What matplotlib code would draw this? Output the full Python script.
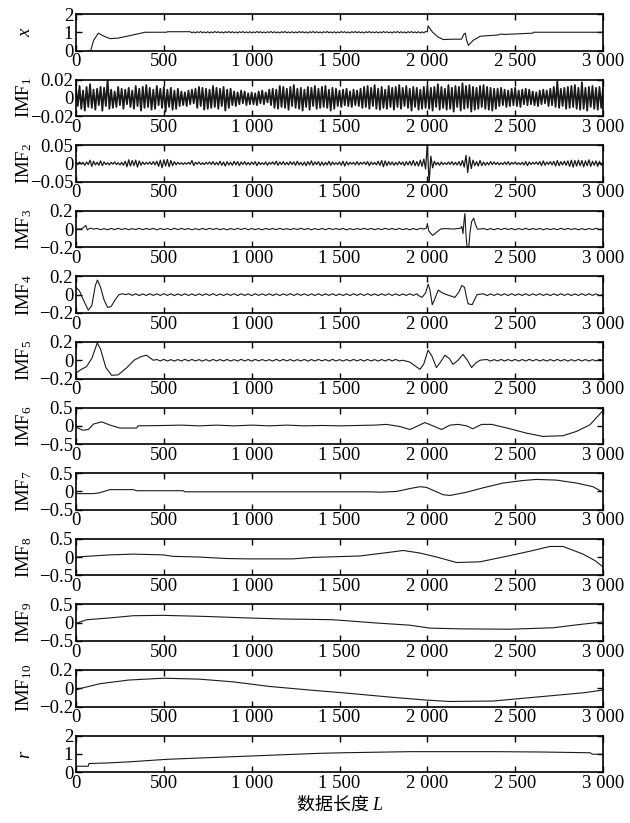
import matplotlib
matplotlib.use("Agg")
import matplotlib.pyplot as plt
import numpy as np

plt.rcParams.update({
    "font.family":        "Liberation Serif",
    "font.size":          13.5,
    "mathtext.fontset":   "custom",
    "mathtext.rm":        "Liberation Serif",
    "mathtext.it":        "Liberation Serif:italic",
    "axes.linewidth":     1.2,
    "axes.unicode_minus": True,
})

# ── Data ──────────────────────────────────────────────────────────────────────
XTICKS       = [0, 500, 1000, 1500, 2000, 2500, 3000]
XTICK_LABELS = ["0", "500", "1 000", "1 500", "2 000", "2 500", "3 000"]

# x (original signal)
X_HEAD_T = [60, 84, 100, 127, 160, 194, 240, 300, 393, 515, 522, 640]
X_HEAD_V = [-0.3, 0.0, 0.55, 0.95, 0.78, 0.65, 0.68, 0.8, 1.0, 1.0, 1.03, 1.03]
X_NOISE = [  # 650..1990 step 10, offsets from 1.0 in 0.01
    3, -3, 2, -4, 3, -2, 4, -3, 2, -3, 3, -4, 2, -3, 4, -2, 3, -3, 2, -4,
    3, -2, 4, -3, 3, -3, 2, -4, 3, -2, 4, -3, 2, -3, 3, -4, 2, -3, 4, -2,
    3, -3, 2, -4, 3, -2, 4, -3, 3, -3, 2, -4, 3, -2, 4, -3, 2, -3, 3, -4,
    2, -3, 4, -2, 3, -3, 2, -4, 3, -2, 4, -3, 3, -3, 2, -4, 3, -2, 4, -3,
    2, -3, 3, -4, 2, -3, 4, -2, 3, -3, 2, -4, 3, -2, 4, -3, 3, -3, 2, -4,
    3, -2, 4, -3, 2, -3, 3, -4, 2, -3, 4, -2, 3, -3, 2, -4, 3, -2, 4, -3,
    3, -3, 2, -4, 3, -2, 4, -3, 2, -3, 3, -4, 2, -3, 4]
X_TAIL_T = [2000, 2004, 2030, 2060, 2090, 2150, 2195, 2208, 2216, 2224, 2234,
            2260, 2300, 2400, 2420, 2440, 2600, 2605, 3000]
X_TAIL_V = [1.02, 1.35, 1.0, 0.75, 0.6, 0.62, 0.62, 0.9, 0.95, 0.55, 0.28,
            0.55, 0.78, 0.85, 0.9, 0.88, 0.95, 1.0, 1.0]

# IMF1, 0..2990 step 10, units of 0.001
IMF1 = [
    11, -9, 13, -12, 8, -14, 12, -10, 15, -11, 9, -13, 10, -8, 12, -14, 11, -9, 20, -12,
    9, -11, 7, -10, 12, -8, 10, -12, 9, -7, 11, -10, 8, -12, 13, -9, 10, -14, 12, -11,
    14, -10, 11, -13, 9, -12, 13, -8, 10, -11, 12, -15, 9, -10, 11, -13, 8, -12, 10, -9,
    7, -8, 6, -9, 8, -7, 9, -6, 10, -11, 12, -9, 11, -13, 10, -12, 9, -11, 13, -10,
    11, -12, 10, -9, 12, -14, 9, -11, 10, -8, 7, -9, 6, -7, 8, -6, 7, -8, 5, -7,
    6, -7, 5, -8, 7, -6, 8, -7, 6, -5, 9, -8, 10, -11, 9, -12, 13, -10, 12, -11,
    10, -13, 12, -9, 14, -11, 10, -12, 11, -14, 9, -10, 12, -13, 11, -9, 13, -12, 10, -11,
    12, -10, 13, -11, 9, -14, 11, -12, 10, -9, 8, -10, 9, -8, 10, -9, 7, -10, 9, -8,
    8, -9, 10, -11, 12, -10, 13, -12, 11, -9, 14, -12, 10, -13, 12, -11, 9, -12, 13, -10,
    11, -13, 12, -10, 14, -12, 11, -9, 13, -11, 10, -14, 12, -10, 11, -13, 9, -12, 12, -11,
    13, -12, 11, -14, 12, -10, 15, -13, 12, -11, 10, -13, 14, -12, 11, -15, 13, -10, 12, -14,
    16, -12, 13, -11, 14, -15, 12, -13, 11, -12, 13, -10, 14, -12, 12, -13, 11, -14, 10, -12,
    10, -9, 11, -8, 9, -10, 8, -9, 10, -8, 11, -9, 8, -10, 9, -7, 10, -8, 9, -7,
    7, -8, 6, -9, 8, -7, 9, -6, 8, -9, 10, -8, 12, -10, 18, -11, 10, -9, 11, -12,
    12, -11, 13, -10, 14, -12, 11, -13, 17, -12, 11, -14, 12, -10, 13, -12, 11, -13, 12, -11,
    10]

# IMF2, 0..2990 step 10, units of 0.001
IMF2 = [
    2, -3, 4, -2, 3, -5, 4, -3, 9, -8, 6, -4, 3, -5, 7, -6, 4, -3, 2, -4,
    3, -2, 4, -3, 2, -4, 3, -5, 6, -9, 10, -7, 8, -6, 9, -10, 7, -5, 4, -3,
    3, -2, 4, -3, 5, -4, 6, -8, 9, -12, 10, -7, 11, -9, 8, -6, 5, -4, 3, -2,
    2, -3, 2, -2, 3, -2, 8, -6, 3, -2, 4, -3, 2, -3, 3, -2, 4, -3, 5, -4,
    3, -4, 6, -5, 4, -7, 5, -4, 3, -5, 6, -4, 5, -6, 4, -3, 5, -4, 3, -4,
    4, -3, 5, -6, 4, -3, 2, -3, 4, -5, 3, -2, 4, -3, 6, -5, 4, -3, 5, -4,
    3, -4, 5, -3, 4, -5, 6, -4, 3, -5, 4, -6, 5, -4, 7, -5, 4, -3, 5, -6,
    4, -5, 3, -4, 6, -5, 4, -3, 2, -3, 4, -5, 6, -7, 5, -4, 3, -2, 3, -4,
    5, -4, 3, -2, 4, -3, 5, -6, 4, -3, 3, -4, 6, -5, 8, -9, 7, -6, 5, -4,
    4, -5, 3, -4, 5, -3, 4, -6, 5, -4, 6, -5, 8, -6, 5, -7, 9, -8, 12, -15,
    55, -55, 20, -12, 6, -4, 3, -5, 4, -3, 2, -3, 4, -3, 5, -4, 3, -4, 5, -6,
    8, -10, 22, -25, 18, -14, 9, -6, 5, -7, 8, -6, 4, -5, 3, -4, 5, -3, 4, -3,
    3, -4, 2, -3, 4, -3, 5, -4, 3, -2, 4, -3, 2, -3, 3, -4, 5, -6, 4, -3,
    3, -2, 4, -3, 5, -6, 7, -5, 4, -3, 5, -4, 6, -7, 8, -6, 5, -4, 6, -5,
    7, -8, 9, -10, 8, -7, 9, -6, 8, -9, 7, -6, 10, -8, 6, -5, 7, -8, 6, -5,
    0]

# IMF3
IMF3_HEAD_T = [0, 30, 45, 55, 65, 80, 100]
IMF3_HEAD_V = [0.0, 0.0, 0.02, 0.04, -0.01, 0.01, 0.0]
IMF3_RIP1 = [  # 120..1960 step 20, units of 0.001
    6, -7, 5, -8, 7, -6, 8, -5, 6, -7, 5, -6, 8, -7, 6, -5, 7, -8, 6, -6,
    5, -7, 8, -6, 7, -5, 6, -8, 5, -7, 6, -6, 8, -5, 7, -7, 5, -8, 6, -6,
    7, -5, 8, -7, 6, -6, 5, -8, 7, -5, 6, -7, 8, -6, 5, -7, 6, -5, 8, -6,
    7, -8, 5, -6, 6, -7, 8, -5, 6, -6, 7, -8, 5, -7, 6, -5, 8, -6, 7, -7,
    5, -6, 8, -5, 6, -7, 7, -6, 5, -8, 6, -7, 8]
IMF3_EVT_T = [1980, 1995, 2000, 2008, 2030, 2050, 2075, 2100, 2150, 2190, 2196,
              2203, 2209, 2214, 2219, 2226, 2234, 2242, 2252, 2264, 2274, 2285, 2300]
IMF3_EVT_V = [0.0, 0.01, 0.06, -0.02, -0.07, -0.04, 0.0, 0.005, 0.0, 0.01, 0.03,
              -0.05, 0.09, 0.17, -0.04, -0.2, -0.25, -0.05, 0.08, 0.12, 0.05, 0.0, 0.0]
IMF3_RIP2 = [  # 2320..2980 step 20
    6, -7, 5, -8, 7, -6, 8, -5, 6, -7, 5, -6, 8, -7, 6, -5, 7, -8, 6, -6,
    5, -7, 8, -6, 7, -5, 6, -8, 5, -7, 6, -6, 8, -5]

# IMF4
IMF4_HEAD_T = [0, 20, 40, 70, 90, 110, 122, 140, 160, 180, 200, 225, 245, 265, 280]
IMF4_HEAD_V = [0.08, 0.04, -0.05, -0.17, -0.12, 0.1, 0.16, 0.08, -0.06, -0.14,
               -0.13, -0.05, 0.0, 0.01, 0.0]
IMF4_RIP1 = [  # 300..1940 step 20
    10, -8, 9, -10, 8, -9, 10, -8, 9, -9, 11, -8, 9, -10, 8, -9, 10, -9, 8, -10,
    9, -8, 10, -9, 11, -10, 8, -9, 9, -8, 10, -10, 9, -9, 8, -11, 10, -8, 9, -9,
    10, -9, 8, -10, 9, -8, 11, -9, 10, -8, 9, -10, 8, -9, 10, -9, 9, -8, 10, -10,
    8, -9, 9, -10, 10, -8, 9, -9, 11, -9, 8, -10, 9, -8, 10, -9, 9, -10, 8, -9,
    10, -8, 9]
IMF4_EVT_T = [1950, 1970, 1990, 2005, 2015, 2028, 2040, 2062, 2085, 2110, 2157,
              2180, 2196, 2212, 2222, 2232, 2255, 2270, 2283, 2300]
IMF4_EVT_V = [-0.01, -0.03, 0.02, 0.115, 0.05, -0.11, -0.06, 0.05, 0.02, 0.0, -0.03,
              0.03, 0.1, 0.08, -0.02, -0.1, -0.11, -0.05, 0.0, 0.005]
IMF4_RIP2 = [  # 2320..2980 step 20
    9, -10, 8, -9, 10, -8, 9, -10, 11, -9, 8, -9, 10, -10, 9, -8, 10, -9, 8, -10,
    9, -9, 10, -8, 9, -10, 8, -9, 11, -9, 10, -8, 9, -9]

# IMF5
IMF5_HEAD_T = [0, 30, 60, 90, 121, 140, 170, 203, 240, 290, 330, 370, 402, 425, 440]
IMF5_HEAD_V = [-0.14, -0.1, -0.07, 0.02, 0.19, 0.12, -0.08, -0.165, -0.16, -0.08,
               0.0, 0.04, 0.055, 0.02, 0.0]
IMF5_RIP1 = [  # 460..1840 step 20
    8, -7, 9, -8, 7, -9, 8, -8, 10, -7, 9, -8, 7, -9, 8, -10, 9, -7, 8, -8,
    9, -9, 7, -8, 10, -8, 8, -9, 9, -7, 8, -8, 7, -9, 10, -8, 9, -7, 8, -9,
    7, -8, 9, -10, 8, -8, 9, -7, 8, -9, 10, -8, 7, -9, 8, -8, 9, -7, 8, -9,
    9, -8, 7, -9, 8, -8, 10, -7, 9, -8]
IMF5_EVT_T = [1860, 1900, 1958, 1980, 2004, 2025, 2052, 2075, 2100, 2125, 2146,
              2175, 2203, 2228, 2252, 2275, 2300, 2320]
IMF5_EVT_V = [0.0, -0.02, -0.1, -0.04, 0.11, 0.05, -0.08, -0.02, 0.055, 0.02, -0.045,
              0.0, 0.065, 0.0, -0.08, -0.03, 0.0, 0.005]
IMF5_RIP2 = [  # 2340..2980 step 20
    8, -9, 7, -8, 9, -8, 8, -7, 9, -9, 8, -8, 10, -7, 9, -8, 7, -9, 8, -8,
    9, -7, 8, -9, 7, -8, 9, -8, 8, -9, 7, -8, 9]

IMF6_T = [0, 5, 40, 70, 100, 146, 194, 250, 345, 353, 500, 600, 700, 800, 900,
          1000, 1100, 1200, 1300, 1400, 1500, 1600, 1700, 1768, 1845, 1901, 1986,
          2032, 2081, 2129, 2175, 2224, 2258, 2309, 2366, 2470, 2565, 2659, 2773,
          2850, 2926, 3000]
IMF6_V = [0.02, -0.05, -0.12, -0.1, 0.05, 0.11, 0.02, -0.06, -0.06, 0.0, 0.01, 0.02,
          0.0, 0.02, 0.0, 0.02, 0.0, 0.02, 0.0, 0.01, 0.0, 0.01, 0.02, 0.04, -0.02,
          -0.1, 0.09, 0.0, -0.1, 0.02, 0.04, 0.0, -0.08, 0.04, 0.04, -0.08, -0.2,
          -0.29, -0.27, -0.15, 0.03, 0.42]

IMF7_T = [0, 100, 130, 194, 326, 345, 610, 620, 1000, 1674, 1731, 1825, 1901, 1958,
          1996, 2090, 2129, 2224, 2318, 2431, 2545, 2622, 2736, 2850, 2943, 3000]
IMF7_V = [-0.06, -0.06, -0.04, 0.05, 0.05, 0.02, 0.02, -0.01, -0.01, -0.01, -0.02,
          0.0, 0.08, 0.13, 0.11, -0.09, -0.11, -0.02, 0.1, 0.23, 0.3, 0.33, 0.31,
          0.23, 0.13, -0.02]

IMF8_T = [0, 61, 194, 326, 494, 551, 700, 854, 968, 1234, 1348, 1617, 1768, 1863,
          1958, 2053, 2167, 2300, 2470, 2584, 2698, 2773, 2887, 2955, 3000]
IMF8_V = [0.0, 0.02, 0.06, 0.08, 0.06, 0.02, 0.0, -0.04, -0.05, -0.05, -0.01, 0.03,
          0.12, 0.18, 0.11, 0.0, -0.15, -0.13, 0.04, 0.16, 0.29, 0.29, 0.08, -0.1,
          -0.27]

IMF9_T = [0, 61, 194, 326, 494, 740, 854, 968, 1177, 1348, 1462, 1712, 1901, 2015,
          2186, 2470, 2717, 2850, 3000]
IMF9_V = [-0.02, 0.08, 0.13, 0.19, 0.2, 0.17, 0.15, 0.13, 0.1, 0.09, 0.08, -0.01,
          -0.07, -0.15, -0.17, -0.18, -0.14, -0.06, 0.02]

IMF10_T = [0, 30, 137, 300, 500, 700, 895, 1100, 1332, 1521, 1805, 1996, 2129,
           2374, 2659, 2887, 3000]
IMF10_V = [-0.02, 0.0, 0.05, 0.09, 0.11, 0.1, 0.07, 0.02, -0.02, -0.05, -0.1,
           -0.13, -0.145, -0.14, -0.09, -0.05, -0.02]

R_T = [0, 69, 74, 177, 300, 516, 990, 1389, 1521, 1901, 2395, 2659, 2926, 2940, 3000]
R_V = [0.32, 0.32, 0.47, 0.5, 0.56, 0.7, 0.88, 1.03, 1.06, 1.12, 1.12, 1.1, 1.06,
       0.98, 0.98]


def grid(start, stop, step):
    return list(np.arange(start, stop + 1, step))


def milli(vals, base=0.0, scale=0.001):
    return [base + v * scale for v in vals]


# ── Assemble the panels ──────────────────────────────────────────────────────
panels = [
    ("$x$",
     X_HEAD_T + grid(650, 1990, 10) + X_TAIL_T,
     X_HEAD_V + milli(X_NOISE, 1.0, 0.01) + X_TAIL_V,
     (0, 2), [0, 1, 2], ["0", "1", "2"], 0.8),
    ("IMF$_1$", grid(0, 3000, 10), milli(IMF1),
     (-0.02, 0.02), [-0.02, 0, 0.02], ["\u22120.02", "0", "0.02"], 1.3),
    ("IMF$_2$", grid(0, 3000, 10), milli(IMF2),
     (-0.05, 0.05), [-0.05, 0, 0.05], ["\u22120.05", "0", "0.05"], 0.9),
    ("IMF$_3$",
     IMF3_HEAD_T + grid(120, 1960, 20) + IMF3_EVT_T + grid(2320, 2980, 20) + [3000],
     IMF3_HEAD_V + milli(IMF3_RIP1) + IMF3_EVT_V + milli(IMF3_RIP2) + [0.0],
     (-0.2, 0.2), [-0.2, 0, 0.2], ["\u22120.2", "0", "0.2"], 0.8),
    ("IMF$_4$",
     IMF4_HEAD_T + grid(300, 1940, 20) + IMF4_EVT_T + grid(2320, 2980, 20) + [3000],
     IMF4_HEAD_V + milli(IMF4_RIP1) + IMF4_EVT_V + milli(IMF4_RIP2) + [0.0],
     (-0.2, 0.2), [-0.2, 0, 0.2], ["\u22120.2", "0", "0.2"], 0.8),
    ("IMF$_5$",
     IMF5_HEAD_T + grid(460, 1840, 20) + IMF5_EVT_T + grid(2340, 2980, 20) + [3000],
     IMF5_HEAD_V + milli(IMF5_RIP1) + IMF5_EVT_V + milli(IMF5_RIP2) + [0.0],
     (-0.2, 0.2), [-0.2, 0, 0.2], ["\u22120.2", "0", "0.2"], 0.8),
    ("IMF$_6$", IMF6_T, IMF6_V,
     (-0.5, 0.5), [-0.5, 0, 0.5], ["\u22120.5", "0", "0.5"], 0.8),
    ("IMF$_7$", IMF7_T, IMF7_V,
     (-0.5, 0.5), [-0.5, 0, 0.5], ["\u22120.5", "0", "0.5"], 0.8),
    ("IMF$_8$", IMF8_T, IMF8_V,
     (-0.5, 0.5), [-0.5, 0, 0.5], ["\u22120.5", "0", "0.5"], 0.8),
    ("IMF$_9$", IMF9_T, IMF9_V,
     (-0.5, 0.5), [-0.5, 0, 0.5], ["\u22120.5", "0", "0.5"], 0.8),
    ("IMF$_{10}$", IMF10_T, IMF10_V,
     (-0.2, 0.2), [-0.2, 0, 0.2], ["\u22120.2", "0", "0.2"], 0.8),
    ("$r$", R_T, R_V,
     (0, 2), [0, 1, 2], ["0", "1", "2"], 0.8),
]

# ── Figure ────────────────────────────────────────────────────────────────────
W, H = 630, 823
fig = plt.figure(figsize=(W / 100, H / 100), dpi=100)

left, width = 76 / W, 527 / W
top0, step, h = 14, 65.6, 36.5

for i, (label, t, v, ylim, yt, ytl, lw) in enumerate(panels):
    top = top0 + i * step
    ax = fig.add_axes([left, 1 - (top + h) / H, width, h / H])
    ax.plot(t, v, color="#1a1a1a", linewidth=lw)
    ax.set_xlim(0, 3000)
    ax.set_ylim(*ylim)
    ax.set_xticks(XTICKS)
    ax.set_xticklabels(XTICK_LABELS)
    ax.set_yticks(yt)
    ax.set_yticklabels(ytl)
    ax.tick_params(direction="in", top=True, right=True, length=4, width=1,
                   labelsize=13.5, pad=2)
    ax.set_ylabel(label, fontsize=13.5)
    ax.yaxis.set_label_coords(-0.08, 0.5)

    if i == len(panels) - 1:
        ax.set_xlabel("数据长度 $L$", fontfamily="Noto Sans CJK SC",
                      fontsize=13, labelpad=1)

fig.savefig("out.png", dpi=100)
